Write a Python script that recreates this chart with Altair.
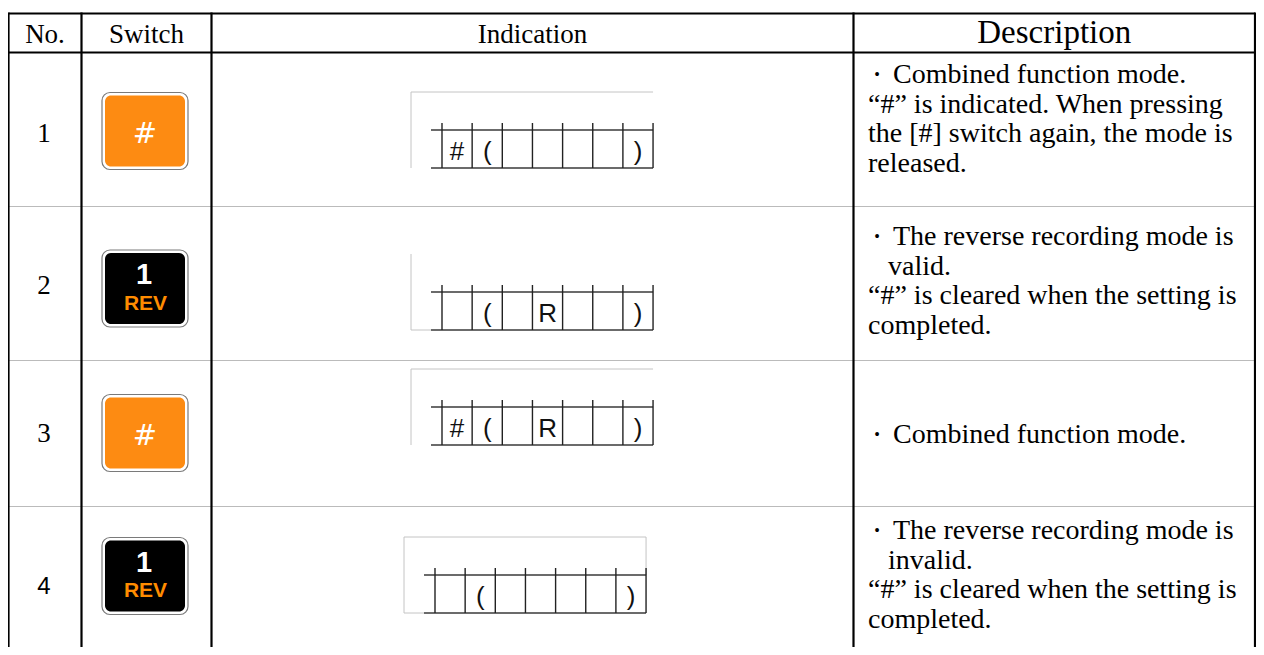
import altair as alt
import pandas as pd

# ---------------- content ----------------
HEADERS = ["No.", "Switch", "Indication", "Description"]
ROW_NUMBERS = ["1", "2", "3", "4"]
SWITCHES = ["#", "REV", "#", "REV"]          # kind of key in each row
HASH_KEY = "#"
REV_TOP = "1"
REV_BOTTOM = "REV"
INDICATIONS = [
    ["#", "(", "", "", "", "", ")"],
    ["", "(", "", "R", "", "", ")"],
    ["#", "(", "", "R", "", "", ")"],
    ["", "(", "", "", "", "", ")"],
]
BULLET = "\u2022"
# "・" starts a bulleted sentence, ">" marks its continuation line
DESCRIPTIONS = [
    ["・Combined function mode.",
     "\u201c#\u201d is indicated. When pressing",
     "the [#] switch again, the mode is",
     "released."],
    ["・The reverse recording mode is",
     ">valid.",
     "\u201c#\u201d is cleared when the setting is",
     "completed."],
    ["・Combined function mode."],
    ["・The reverse recording mode is",
     ">invalid.",
     "\u201c#\u201d is cleared when the setting is",
     "completed."],
]

# ---------------- layout (page pixel units) ----------------
COL_EDGES = [8.5, 81.5, 211.5, 853.5, 1255]
TABLE_TOP = 13.5
HEAD_BOTTOM = 52.5
ROW_EDGES = [52.5, 206.5, 360.5, 506.5, 700]
HEAD_BASELINE = 43
BUTTON_CX = 145
BUTTON_CY = [131, 288.5, 433, 576]
NUMBER_BASELINE = [142, 294, 442, 594]
DISPLAY_X0 = [442, 442, 442, 435]
DISPLAY_TOP = [130, 292, 407, 575]
FRAME_TOP_LINE = [True, False, True, True]
FRAME_BOTTOM_STUB = [False, True, False, True]
FRAME_RIGHT = [False, False, False, True]
CELL_W = 30.15
CELL_H = 38
DESC_X = 868
BULLET_X = 877
BULLET_TEXT_X = 893
CONT_X = 888
DESC_FIRST = [83, 245, 443, 539]
DESC_LEAD = 29.5

SERIF = "Liberation Serif"
SANS = "Liberation Sans"

XS = alt.Scale(domain=[10, 1256])
YS = alt.Scale(domain=[10, 647], reverse=True)


def X(f):
    return alt.X(f, type="quantitative", scale=XS, axis=None)


def Y(f):
    return alt.Y(f, type="quantitative", scale=YS, axis=None)


def rules(df, **kw):
    return alt.Chart(df).mark_rule(**kw).encode(
        x=X("x"), x2=alt.X2("x2"), y=Y("y"), y2=alt.Y2("y2"))


def texts(df, **kw):
    return alt.Chart(df).mark_text(**kw).encode(x=X("x"), y=Y("y"), text="t:N")


left, right = COL_EDGES[0], COL_EDGES[-1]

# thick black frame lines
thick = [dict(x=left, x2=right, y=TABLE_TOP, y2=TABLE_TOP),
         dict(x=left, x2=right, y=HEAD_BOTTOM, y2=HEAD_BOTTOM)]
for cx in COL_EDGES:
    thick.append(dict(x=cx, x2=cx, y=TABLE_TOP - 1, y2=ROW_EDGES[-1]))
thick_df = pd.DataFrame(thick)

dotted_df = pd.DataFrame([dict(x=left, x2=right, y=y, y2=y) for y in ROW_EDGES[1:4]])

# indication displays
grid_h, grid_v, grey, cells = [], [], [], []
for r, row in enumerate(INDICATIONS):
    x0, top = DISPLAY_X0[r], DISPLAY_TOP[r]
    n = len(row)
    xe = x0 + n * CELL_W
    bot = top + CELL_H
    fx = x0 - 31
    ftop = top - CELL_H
    grid_h.append(dict(x=x0 - 11, x2=xe, y=top, y2=top))
    grid_h.append(dict(x=x0 - 11, x2=xe, y=bot, y2=bot))
    for i in range(n + 1):
        xi = x0 + i * CELL_W
        grid_v.append(dict(x=xi, x2=xi, y=top - 7, y2=bot))
    if FRAME_TOP_LINE[r]:
        grey.append(dict(x=fx, x2=xe, y=ftop, y2=ftop))
    grey.append(dict(x=fx, x2=fx, y=ftop, y2=bot))
    if FRAME_BOTTOM_STUB[r]:
        grey.append(dict(x=fx, x2=x0 - 11, y=bot, y2=bot))
    if FRAME_RIGHT[r]:
        grey.append(dict(x=xe, x2=xe, y=ftop, y2=top))
    for i, ch in enumerate(row):
        if ch:
            cells.append(dict(x=x0 + (i + 0.5) * CELL_W, y=bot - 8.5, t=ch))

# buttons
btn = []
for r, kind in enumerate(SWITCHES):
    cy = BUTTON_CY[r]
    btn.append(dict(kind=kind, x=BUTTON_CX - 43, x2=BUTTON_CX + 43, y=cy - 38.5, y2=cy + 38.5,
                    ix=BUTTON_CX - 40, ix2=BUTTON_CX + 40, iy=cy - 35.5, iy2=cy + 35.5))
btn_df = pd.DataFrame(btn)

outer_btn = alt.Chart(btn_df).mark_rect(fill="white", stroke="#7a7a7a", strokeWidth=1.2,
                                        cornerRadius=8).encode(
    x=X("x"), x2=alt.X2("x2"), y=Y("y"), y2=alt.Y2("y2"))
orange_btn = alt.Chart(btn_df).transform_filter(alt.datum.kind == HASH_KEY).mark_rect(
    fill="#FD8B12", cornerRadius=6).encode(x=X("ix"), x2=alt.X2("ix2"), y=Y("iy"), y2=alt.Y2("iy2"))
black_btn = alt.Chart(btn_df).transform_filter(alt.datum.kind != HASH_KEY).mark_rect(
    fill="#000000", cornerRadius=6).encode(x=X("ix"), x2=alt.X2("ix2"), y=Y("iy"), y2=alt.Y2("iy2"))

hash_txt = pd.DataFrame([dict(x=BUTTON_CX, y=BUTTON_CY[r] + 11.5, t=k)
                         for r, k in enumerate(SWITCHES) if k == HASH_KEY])
rev_top = pd.DataFrame([dict(x=BUTTON_CX - 1, y=BUTTON_CY[r] - 4.5, t=REV_TOP)
                        for r, k in enumerate(SWITCHES) if k != HASH_KEY])
rev_bot = pd.DataFrame([dict(x=BUTTON_CX + 0.5, y=BUTTON_CY[r] + 21, t=REV_BOTTOM)
                        for r, k in enumerate(SWITCHES) if k != HASH_KEY])

# header text
head_df = pd.DataFrame([dict(x=(COL_EDGES[i] + COL_EDGES[i + 1]) / 2, y=HEAD_BASELINE, t=h, c=i)
                        for i, h in enumerate(HEADERS)])
last_col = len(HEADERS) - 1

num_df = pd.DataFrame([dict(x=(COL_EDGES[0] + COL_EDGES[1]) / 2 - 1, y=NUMBER_BASELINE[r], t=n, r=r)
                       for r, n in enumerate(ROW_NUMBERS)])
last_row = len(ROW_NUMBERS) - 1

desc, bullets = [], []
for r, lines in enumerate(DESCRIPTIONS):
    for j, line in enumerate(lines):
        yb = DESC_FIRST[r] + j * DESC_LEAD
        if line.startswith("・"):
            bullets.append(dict(x=BULLET_X, y=yb - 3, t=BULLET))
            desc.append(dict(x=BULLET_TEXT_X, y=yb, t=line[1:]))
        elif line.startswith(">"):
            desc.append(dict(x=CONT_X, y=yb, t=line[1:]))
        else:
            desc.append(dict(x=DESC_X, y=yb, t=line))
desc_df = pd.DataFrame(desc)
bullet_df = pd.DataFrame(bullets)

layers = [
    rules(dotted_df, color="#777777", strokeWidth=1, strokeDash=[1, 1]),
    rules(pd.DataFrame(grey), color="#c4c4c4", strokeWidth=1),
    rules(pd.DataFrame(grid_h), color="#3a3a3a", strokeWidth=1.4),
    rules(pd.DataFrame(grid_v), color="#222222", strokeWidth=1.4),
    rules(thick_df, color="#000000", strokeWidth=2.2),
    outer_btn, orange_btn, black_btn,
    texts(hash_txt, font="DejaVu Sans", fontSize=29, color="white", align="center", baseline="alphabetic"),
    texts(rev_top, font=SANS, fontSize=29, fontWeight="bold", color="white", align="center", baseline="alphabetic"),
    texts(rev_bot, font=SANS, fontSize=21, fontWeight="bold", color="#FF8C00", align="center", baseline="alphabetic"),
    texts(pd.DataFrame(cells), font=SANS, fontSize=26, color="#111111", align="center", baseline="alphabetic"),
    alt.Chart(head_df).transform_filter(alt.datum.c < last_col).mark_text(
        font=SERIF, fontSize=27, color="black", align="center", baseline="alphabetic").encode(
        x=X("x"), y=Y("y"), text="t:N"),
    alt.Chart(head_df).transform_filter(alt.datum.c == last_col).mark_text(
        font=SERIF, fontSize=33, color="black", align="center", baseline="alphabetic").encode(
        x=X("x"), y=Y("y"), text="t:N"),
    alt.Chart(num_df).transform_filter(alt.datum.r < last_row).mark_text(
        font=SERIF, fontSize=27, color="black", align="center", baseline="alphabetic").encode(
        x=X("x"), y=Y("y"), text="t:N"),
    alt.Chart(num_df).transform_filter(alt.datum.r == last_row).mark_text(
        font=SANS, fontSize=24, color="black", align="center", baseline="alphabetic").encode(
        x=X("x"), y=Y("y"), text="t:N"),
    texts(bullet_df, font=SERIF, fontSize=16, color="black", align="center", baseline="alphabetic"),
    texts(desc_df, font=SERIF, fontSize=28, color="black", align="left", baseline="alphabetic"),
]

chart = alt.layer(*layers).properties(
    width=1246, height=637,
    padding={"left": 2, "top": 2, "right": 0, "bottom": 0},
    autosize=alt.AutoSizeParams(type="none"),
).configure_view(strokeWidth=0)

chart.save("out.html", embed_options={"renderer": "svg", "actions": False})
